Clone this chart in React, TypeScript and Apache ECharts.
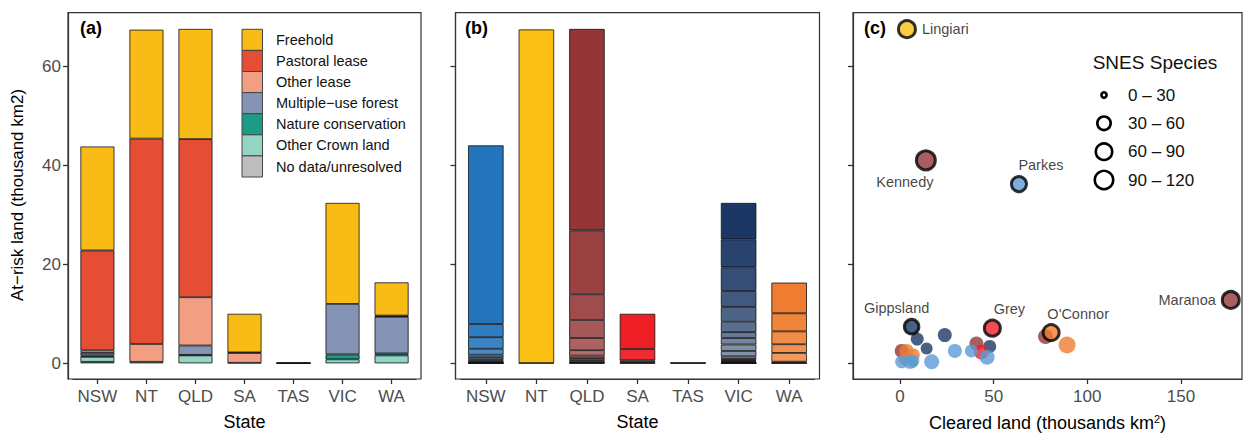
import React, { useEffect, useRef } from "react";
import * as echarts from "echarts";

const FONT = "'Liberation Sans', Arial, Helvetica, sans-serif";

const STATES = ["NSW", "NT", "QLD", "SA", "TAS", "VIC", "WA"];
const Y_TICKS = [0, 20, 40, 60];
const X_TICKS_C = [0, 50, 100, 150];

// Panel (a): at-risk land by tenure (thousand km2), per state
const TENURES = [
  "Freehold",
  "Pastoral lease",
  "Other lease",
  "Multiple\u2212use forest",
  "Nature conservation",
  "Other Crown land",
  "No data/unresolved",
];
const TENURE_COLORS = ["#f9bb16", "#e64d35", "#f29e82", "#8593b5", "#1a9c86", "#93d4c3", "#bebebe"];
const freehold = [21.0, 22.0, 22.25, 7.8, 0.05, 20.4, 6.7];
const pastoral = [20.2, 41.5, 31.95, 0.1, 0, 0, 0.15];
const otherLease = [0.5, 3.6, 9.75, 2.0, 0, 0, 0.1];
const forest = [0.5, 0, 1.9, 0, 0, 10.2, 7.4];
const nature = [0.3, 0, 0.1, 0, 0, 1.0, 0.4];
const otherCrown = [1.0, 0.3, 1.6, 0.1, 0.03, 0.8, 1.6];
const noData = [0.3, 0, 0, 0, 0.02, 0, 0];

// Panel (b): at-risk land per electorate, listed top -> bottom of each bar
const elecNSW = [36.1, 2.65, 2.35, 1.2, 0.5, 0.4, 0.35, 0.25, 0.1, 0.05, 0.05, 0.03];
const elecNT = [67.4, 0.05];
const elecQLD = [40.7, 12.9, 5.2, 3.65, 2.45, 1.1, 0.5, 0.4, 0.35, 0.15, 0.1, 0.05];
const elecSA = [7.1, 2.3, 0.4, 0.15, 0.05];
const elecTAS = [0.1, 0.03];
const elecVIC = [7.35, 5.65, 4.8, 3.2, 3.0, 2.1, 1.2, 1.3, 1.3, 1.1, 0.5, 0.25, 0.25, 0.15, 0.1, 0.08, 0.05, 0.02];
const elecWA = [6.2, 3.65, 2.6, 1.75, 1.77, 0.2, 0.08, 0.05];
const STATE_COLORS = ["#2474bc", "#fbbf14", "#943637", "#ee1f25", "#6aa84f", "#1b3865", "#ee7d31"];

// Panel (c): cleared land vs at-risk land per electorate
const SCATTER_COLORS = ["#5b9bd5", "#fbbf14", "#943637", "#ee1f25", "#70ad47", "#1b3865", "#ee7d31"];
// [cleared, atRisk, stateIndex, symbolSize]
const otherElectorates = [
  [0.9, 2.5, 2, 14], [40.8, 4.0, 2, 14], [77.7, 5.4, 2, 15],
  [9.2, 4.9, 5, 13], [14.2, 3.0, 5, 12], [23.9, 5.7, 5, 14], [47.9, 3.4, 5, 13],
  [3.5, 2.5, 6, 14], [7.1, 1.7, 6, 13], [89.2, 3.7, 6, 17], [2.5, 0.8, 6, 12],
  [43.4, 2.3, 3, 15], [7.0, 0.1, 4, 10],
  [0.9, 0.3, 0, 13], [5.3, 0.3, 0, 14], [16.9, 0.3, 0, 15], [29.3, 2.5, 0, 14],
  [38.1, 2.5, 0, 13], [46.5, 1.2, 0, 15], [7.1, 0.5, 0, 12],
];
const namedNames = ["Lingiari", "Kennedy", "Parkes", "Maranoa", "Gippsland", "Grey", "O'Connor"];
const namedCleared = [3.7, 13.8, 63.5, 176.6, 6.2, 49.3, 80.7];
const namedAtRisk = [67.5, 41.0, 36.2, 12.8, 7.4, 7.1, 6.2];
const namedState = [1, 2, 0, 2, 5, 3, 6];
const namedSize = [17, 19, 15, 17, 14.5, 16, 16];

const SNES_LABELS = ["0 \u2013 30", "30 \u2013 60", "60 \u2013 90", "90 \u2013 120"];

function mix(hex: string, t: number) {
  const n = parseInt(hex.slice(1), 16);
  const r = (n >> 16) & 255, g = (n >> 8) & 255, b = n & 255;
  const f = (c: number) => Math.round(c + (255 - c) * t);
  return `rgb(${f(r)},${f(g)},${f(b)})`;
}

const TICK_STYLE = { color: "#333", width: 1.3 };
const AXIS_LINE = { show: true, onZero: false, lineStyle: { color: "#333", width: 1.2 } };

// panel boxes (px) and the bar grids inside them (0.6-band margin each side)
const BOX_TOP = 12.7;
const BOX_H = 366.3;
const BOX_A = { left: 68, width: 353 };
const BOX_B = { left: 455.5, width: 364 };
const BOX_C = { left: 853, width: 389 };
function innerGrid(box: { left: number; width: number }) {
  const band = box.width / 7.2;
  return { left: box.left + 0.1 * band, width: band * 7, top: BOX_TOP, height: BOX_H, offset: 0.1 * band };
}
const GA = innerGrid(BOX_A);
const GB = innerGrid(BOX_B);

function stateAxis(gridIndex: number) {
  return {
    type: "category",
    gridIndex,
    data: STATES,
    boundaryGap: true,
    axisLine: AXIS_LINE,
    splitLine: { show: false },
    axisTick: { show: true, length: 5, lineStyle: TICK_STYLE, alignWithLabel: true, interval: 0 },
    axisLabel: { color: "#4d4d4d", fontSize: 17, fontFamily: FONT, margin: 9, interval: 0 },
    name: "State",
    nameLocation: "middle",
    nameGap: 34,
    nameTextStyle: { fontSize: 18, color: "#000", fontFamily: FONT },
  };
}

function yAxis(gridIndex: number, labels: boolean, offset: number) {
  return {
    type: "value",
    gridIndex,
    min: -3.17,
    max: 70.83,
    offset,
    axisLine: AXIS_LINE,
    splitLine: { show: false },
    axisTick: { show: true, length: 5, lineStyle: TICK_STYLE, customValues: Y_TICKS },
    axisLabel: {
      show: labels,
      customValues: Y_TICKS,
      color: "#4d4d4d",
      fontSize: 17,
      fontFamily: FONT,
      margin: 7,
    },
  };
}

function buildOption() {
  const tenureData = [freehold, pastoral, otherLease, forest, nature, otherCrown, noData];
  const seriesA: any[] = [];
  for (let t = tenureData.length - 1; t >= 0; t--) {
    seriesA.push({
      type: "bar",
      name: TENURES[t],
      stack: "a",
      xAxisIndex: 0,
      yAxisIndex: 0,
      barWidth: 34,
      itemStyle: { color: TENURE_COLORS[t], borderColor: "#111", borderWidth: 0.8 },
      data: tenureData[t].map((v) => (v > 0 ? v : "-")),
    });
  }

  const ELECTORATES = [elecNSW, elecNT, elecQLD, elecSA, elecTAS, elecVIC, elecWA];
  const maxLen = Math.max(...ELECTORATES.map((a) => a.length));
  const seriesB: any[] = [];
  for (let k = 0; k < maxLen; k++) {
    seriesB.push({
      type: "bar",
      stack: "b",
      xAxisIndex: 1,
      yAxisIndex: 1,
      barWidth: 35.5,
      itemStyle: { borderColor: "#111", borderWidth: 0.8 },
      data: ELECTORATES.map((arr, s) => {
        const fromTop = arr.length - 1 - k;
        if (fromTop < 0) return "-";
        return {
          value: arr[fromTop],
          itemStyle: { color: mix(STATE_COLORS[s], Math.min(fromTop * 0.055, 0.45)) },
        };
      }),
    });
  }

  const bgData = otherElectorates.map((p) => ({
    value: [p[0], p[1]],
    symbolSize: p[3],
    itemStyle: { color: SCATTER_COLORS[p[2]] },
  }));

  const labelCfg: any[] = [
    { position: "right", distance: 5 },
    { position: "inside", offset: [-21, 22] },
    { position: "inside", offset: [22, -19] },
    { position: "left", distance: 5 },
    { position: "inside", offset: [-15, -19] },
    { position: "inside", offset: [17, -19] },
    { position: "inside", offset: [27, -19] },
  ];
  const namedData = namedNames.map((nm, i) => ({
    name: nm,
    value: [namedCleared[i], namedAtRisk[i]],
    symbolSize: namedSize[i],
    itemStyle: { color: SCATTER_COLORS[namedState[i]], borderColor: "#000", borderWidth: 3 },
    label: {
      show: true,
      formatter: nm,
      color: "#111",
      fontSize: 14.5,
      fontFamily: FONT,
      ...labelCfg[i],
    },
  }));

  const legendA: any[] = [];
  TENURES.forEach((t, i) => {
    const y = 29.3 + i * 21.1;
    legendA.push({
      type: "rect",
      shape: { x: 242, y, width: 20.5, height: 21.1 },
      style: { fill: TENURE_COLORS[i], stroke: "#444", lineWidth: 1 },
    });
    legendA.push({
      type: "text",
      x: 276,
      y: y + 10.6,
      style: { text: t, fill: "#111", fontSize: 14.5, fontFamily: FONT, verticalAlign: "middle", align: "left" },
    });
  });

  const legendC: any[] = [
    {
      type: "text",
      x: 1155,
      y: 62,
      style: { text: "SNES Species", fill: "#111", fontSize: 19, fontFamily: FONT, align: "center", verticalAlign: "middle" },
    },
  ];
  const snesR = [2.6, 6.7, 8.2, 9.2];
  const snesY = [95, 123.3, 151.7, 180];
  SNES_LABELS.forEach((lab, i) => {
    legendC.push({
      type: "circle",
      shape: { cx: 1104, cy: snesY[i], r: snesR[i] },
      style: { fill: "#fff", stroke: "#000", lineWidth: 2.6 },
    });
    legendC.push({
      type: "text",
      x: 1128,
      y: snesY[i],
      style: { text: lab, fill: "#111", fontSize: 17, fontFamily: FONT, align: "left", verticalAlign: "middle" },
    });
  });

  const tag = (txt: string, x: number) => ({
    type: "text",
    x,
    y: 28,
    style: { text: txt, fill: "#000", fontSize: 18, fontWeight: "bold", fontFamily: FONT, align: "left", verticalAlign: "middle" },
  });

  const box = (b: { left: number; width: number }) => ({
    type: "rect",
    shape: { x: b.left, y: BOX_TOP, width: b.width, height: BOX_H },
    style: { fill: "none", stroke: "#333", lineWidth: 1.2 },
    z: 10,
  });

  return {
    animation: false,
    backgroundColor: "#fff",
    textStyle: { fontFamily: FONT },
    grid: [
      { left: GA.left, top: GA.top, width: GA.width, height: GA.height, show: false },
      { left: GB.left, top: GB.top, width: GB.width, height: GB.height, show: false },
      { left: BOX_C.left, top: BOX_TOP, width: BOX_C.width, height: BOX_H, show: false },
    ],
    xAxis: [
      stateAxis(0),
      stateAxis(1),
      {
        type: "value",
        gridIndex: 2,
        min: -25.1,
        max: 182.6,
        axisLine: AXIS_LINE,
        splitLine: { show: false },
        axisTick: { show: true, length: 5, lineStyle: TICK_STYLE, customValues: X_TICKS_C },
        axisLabel: { customValues: X_TICKS_C, color: "#4d4d4d", fontSize: 17, fontFamily: FONT, margin: 9 },
        name: "Cleared land (thousands km{sup|2})",
        nameLocation: "middle",
        nameGap: 34,
        nameTextStyle: {
          fontSize: 18,
          color: "#000",
          fontFamily: FONT,
          rich: { sup: { fontSize: 11, verticalAlign: "top", padding: [0, 0, 9, 0], fontFamily: FONT, color: "#000" } },
        },
      },
    ],
    yAxis: [yAxis(0, true, GA.offset), yAxis(1, false, GB.offset), yAxis(2, false, 0)],
    series: [
      ...seriesA,
      ...seriesB,
      { type: "scatter", xAxisIndex: 2, yAxisIndex: 2, symbol: "circle", data: bgData, z: 3 },
      { type: "scatter", xAxisIndex: 2, yAxisIndex: 2, symbol: "circle", data: namedData, z: 4 },
    ],
    graphic: [
      box(BOX_A),
      box(BOX_B),
      box(BOX_C),
      tag("(a)", 80),
      tag("(b)", 465),
      tag("(c)", 864),
      {
        type: "text",
        x: 17,
        y: 195,
        rotation: Math.PI / 2,
        style: {
          text: "At\u2212risk land (thousand km2)",
          fill: "#000",
          fontSize: 17,
          fontFamily: FONT,
          align: "center",
          verticalAlign: "middle",
        },
      },
      ...legendA,
      ...legendC,
    ],
  };
}

export default function App() {
  const ref = useRef<HTMLDivElement>(null);
  useEffect(() => {
    const chart = echarts.init(ref.current!, null, { renderer: "svg" });
    chart.setOption(buildOption() as any);
    return () => chart.dispose();
  }, []);
  return (
    <div
      ref={ref}
      style={{ position: "fixed", left: 0, top: 0, width: 1251, height: 440, background: "#fff" }}
    />
  );
}
